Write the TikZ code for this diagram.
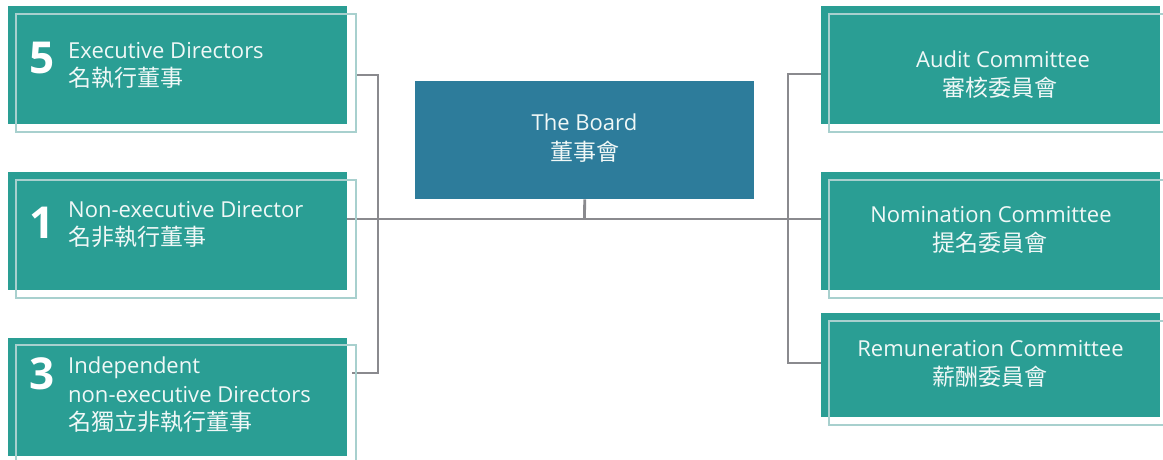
\documentclass[tikz,border=0pt]{standalone}
\usepackage{fontspec}
\setmainfont{Open Sans}
\newfontfamily\cjk{Noto Sans CJK TC}
\definecolor{tealfill}{RGB}{42,158,148}
\definecolor{boardfill}{RGB}{45,124,155}
\definecolor{outl}{RGB}{168,208,206}
\definecolor{linegray}{RGB}{138,138,142}
\definecolor{txt}{RGB}{240,248,247}
\tikzset{
  fillbox/.style={rectangle, fill=tealfill, draw=none, inner sep=0, anchor=north west},
  outbox/.style={rectangle, draw=outl, line width=2.2pt, inner sep=0, anchor=north west},
  conn/.style={draw=linegray, line width=2.8pt},
  num/.style={anchor=base west, font=\fontsize{44}{44}\selectfont\bfseries, text=white, inner sep=0},
  en/.style={anchor=base west, font=\fontsize{22}{22}\selectfont, text=txt, inner sep=0},
  zh/.style={anchor=base west, font=\fontsize{23}{23}\selectfont\cjk, text=txt, inner sep=0},
  enc/.style={en, anchor=base},
  zhc/.style={zh, anchor=base}
}
\begin{document}
\begin{tikzpicture}[x=1pt,y=-1pt]
\useasboundingbox (0,0) rectangle (1163,460);
\clip (0,0) rectangle (1163,460);
% filled boxes
\node[fillbox, minimum width=339pt, minimum height=118pt] (exec) at (8,6) {};
\node[fillbox, minimum width=339pt, minimum height=118pt] (nonexec) at (8,172) {};
\node[fillbox, minimum width=339pt, minimum height=118pt] (indep) at (8,338) {};
\node[fillbox, fill=boardfill, minimum width=339pt, minimum height=118pt] (board) at (415,81) {};
\node[fillbox, minimum width=339pt, minimum height=118pt] (audit) at (821,6) {};
\node[fillbox, minimum width=339pt, minimum height=118pt] (nomin) at (821,172) {};
\node[fillbox, minimum width=339pt, minimum height=104pt] (remun) at (821,313) {};
% connectors
\coordinate (lt) at (378,75);
\coordinate (lb) at (378,373);
\coordinate (mid) at (584.5,219);
\coordinate (rt) at (788,74);
\coordinate (rb) at (788,363);
\draw[conn] (lt -| 355,0) -- (lt) -- (lb) -- (lb -| 352,0);
\draw[conn] (nonexec.east |- mid) -- (mid -| nomin.west);
\draw[conn] (board.south) -- (mid);
\draw[conn] (rt -| audit.west) -- (rt) -- (rb) -- (rb -| remun.west);
% outline boxes
\node[outbox, minimum width=340pt, minimum height=118pt] (exec-o) at (15,13) {};
\node[outbox, minimum width=340pt, minimum height=118pt] (nonexec-o) at (15,179) {};
\node[outbox, minimum width=340pt, minimum height=118pt] (indep-o) at (15,344) {};
\node[outbox, minimum width=340pt, minimum height=118pt] (audit-o) at (828,13) {};
\node[outbox, minimum width=340pt, minimum height=118pt] (nomin-o) at (828,179) {};
\node[outbox, minimum width=340pt, minimum height=104pt] (remun-o) at (828,320) {};
% left texts
\node[num] (n5) at (29,74) {5};
\node[en] (t1a) at (68,59) {Executive Directors};
\node[zh] (t1b) at (68,87) {名執行董事};
\node[num] (n1) at (29,238) {1};
\node[en] (t2a) at (68,217) {Non-executive Director};
\node[zh] (t2b) at (68,245) {名非執行董事};
\node[num] (n3) at (29,389) {3};
\node[en] (t3a) at (68,373) {Independent};
\node[en] (t3b) at (68,402) {non-executive Directors};
\node[zh] (t3c) at (68,430) {名獨立非執行董事};
% board
\node[enc] (b1) at (584.5,131) {The Board};
\node[zhc] (b2) at (584.5,160) {董事會};
% right texts
\node[enc] (a1) at (1003,67) {Audit Committee};
\node[zhc] (a2) at (1000,97) {審核委員會};
\node[enc] (c1) at (991,222) {Nomination Committee};
\node[zhc] (c2) at (990,251) {提名委員會};
\node[enc] (r1) at (990.5,356) {Remuneration Committee};
\node[zhc] (r2) at (990,385) {薪酬委員會};
\end{tikzpicture}
\end{document}
